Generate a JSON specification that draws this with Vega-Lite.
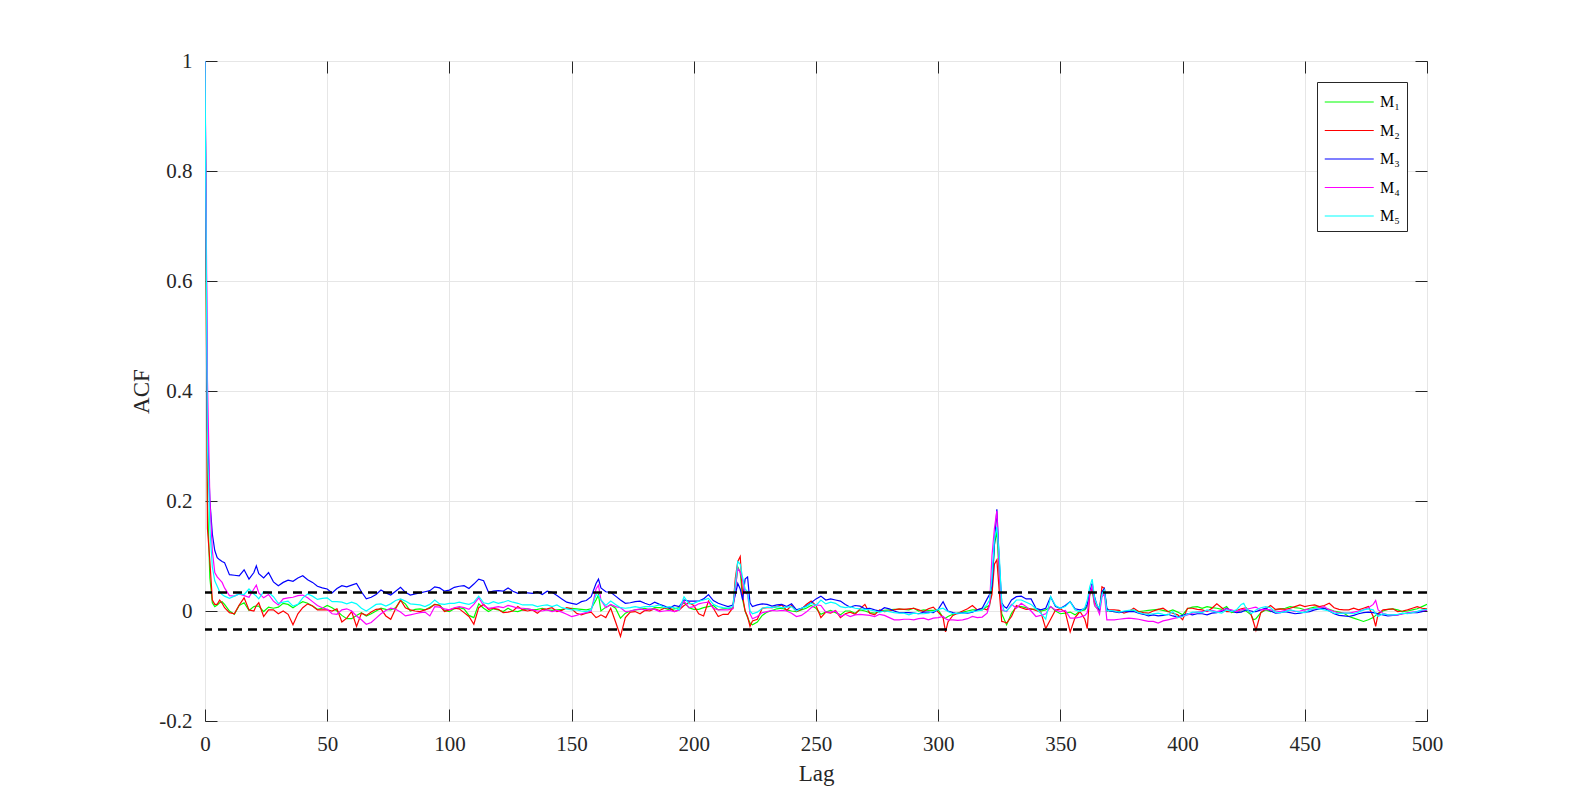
{
"$schema":"https://vega.github.io/schema/vega-lite/v6.json",
"width":1222,"height":660,
"autosize":{"type":"none"},
"padding":{"left":205,"top":61,"right":151,"bottom":90},
"background":"white",
"config":{
 "font":"Liberation Serif",
 "view":{"stroke":"#262626","strokeWidth":1},
 "axis":{"labelFont":"Liberation Serif","labelFontSize":21,"labelColor":"#262626","titleFont":"Liberation Serif","titleFontSize":23,"titleFontWeight":"normal","titleColor":"#262626","domainColor":"#262626","tickColor":"#262626","gridColor":"#e6e6e6","gridOpacity":1,"gridWidth":1}
},
"datasets":{
"bounds":[{"b":0.0335},{"b":-0.0335}],
"acf":[
{"lag":0,"M1":1,"M2":1,"M3":1,"M4":1,"M5":1},
{"lag":1,"M1":0.2,"M2":0.15,"M3":0.33,"M4":0.42,"M5":0.3},
{"lag":2,"M1":0.06,"M2":0.09,"M3":0.2,"M4":0.2,"M5":0.15},
{"lag":3,"M1":0.015,"M2":0.02,"M3":0.14,"M4":0.11,"M5":0.08},
{"lag":4,"M1":0.008,"M2":0.012,"M3":0.11,"M4":0.07,"M5":0.055},
{"lag":5,"M1":0.011,"M2":0.012,"M3":0.097,"M4":0.062,"M5":0.045},
{"lag":6,"M1":0.015,"M2":0.02,"M3":0.093,"M4":0.057,"M5":0.035},
{"lag":7,"M1":0.017,"M2":0.014,"M3":0.09,"M4":0.052,"M5":0.03},
{"lag":8,"M1":0.012,"M2":0.006,"M3":0.088,"M4":0.042,"M5":0.027},
{"lag":10,"M1":0.0,"M2":-0.003,"M3":0.066,"M4":0.028,"M5":0.023},
{"lag":12,"M1":-0.006,"M2":-0.005,"M3":0.065,"M4":0.027,"M5":0.027},
{"lag":14,"M1":0.01,"M2":0.011,"M3":0.064,"M4":0.031,"M5":0.031},
{"lag":16,"M1":0.015,"M2":0.024,"M3":0.075,"M4":0.028,"M5":0.03},
{"lag":18,"M1":0.001,"M2":0.002,"M3":0.058,"M4":0.025,"M5":0.04},
{"lag":20,"M1":0.008,"M2":0.0,"M3":0.07,"M4":0.04,"M5":0.031},
{"lag":21,"M1":0.009,"M2":0.01,"M3":0.082,"M4":0.047,"M5":0.027},
{"lag":22,"M1":0.009,"M2":0.015,"M3":0.068,"M4":0.033,"M5":0.022},
{"lag":24,"M1":-0.001,"M2":-0.01,"M3":0.06,"M4":0.024,"M5":0.035},
{"lag":26,"M1":0.007,"M2":0.002,"M3":0.07,"M4":0.03,"M5":0.034},
{"lag":28,"M1":0.005,"M2":0.002,"M3":0.053,"M4":0.018,"M5":0.026},
{"lag":30,"M1":0.007,"M2":-0.005,"M3":0.046,"M4":0.011,"M5":0.014},
{"lag":32,"M1":0.014,"M2":0.0,"M3":0.052,"M4":0.022,"M5":0.016},
{"lag":34,"M1":0.012,"M2":-0.006,"M3":0.056,"M4":0.024,"M5":0.018},
{"lag":36,"M1":0.006,"M2":-0.025,"M3":0.054,"M4":0.025,"M5":0.009},
{"lag":38,"M1":0.012,"M2":-0.005,"M3":0.06,"M4":0.028,"M5":0.012},
{"lag":40,"M1":0.017,"M2":0.006,"M3":0.064,"M4":0.029,"M5":0.024},
{"lag":42,"M1":0.014,"M2":0.013,"M3":0.057,"M4":0.024,"M5":0.031},
{"lag":44,"M1":0.009,"M2":0.009,"M3":0.052,"M4":0.017,"M5":0.027},
{"lag":46,"M1":0.003,"M2":0.002,"M3":0.045,"M4":0.01,"M5":0.021},
{"lag":48,"M1":0.005,"M2":0.002,"M3":0.042,"M4":0.006,"M5":0.023},
{"lag":50,"M1":0.01,"M2":0.002,"M3":0.04,"M4":0.003,"M5":0.024},
{"lag":52,"M1":0.006,"M2":0.0,"M3":0.033,"M4":-0.005,"M5":0.017},
{"lag":54,"M1":0.0,"M2":0.004,"M3":0.041,"M4":-0.006,"M5":0.017},
{"lag":56,"M1":-0.008,"M2":-0.02,"M3":0.046,"M4":0.002,"M5":0.016},
{"lag":58,"M1":-0.014,"M2":-0.013,"M3":0.044,"M4":0.004,"M5":0.013},
{"lag":60,"M1":-0.014,"M2":-0.001,"M3":0.047,"M4":0.0,"M5":0.016},
{"lag":62,"M1":-0.008,"M2":-0.028,"M3":0.05,"M4":-0.009,"M5":0.013},
{"lag":64,"M1":-0.003,"M2":-0.004,"M3":0.035,"M4":-0.016,"M5":0.005},
{"lag":66,"M1":-0.009,"M2":-0.008,"M3":0.022,"M4":-0.024,"M5":0.0},
{"lag":68,"M1":-0.005,"M2":-0.002,"M3":0.025,"M4":-0.021,"M5":0.006},
{"lag":70,"M1":0.0,"M2":0.003,"M3":0.03,"M4":-0.013,"M5":0.012},
{"lag":72,"M1":0.005,"M2":0.004,"M3":0.038,"M4":-0.005,"M5":0.013},
{"lag":74,"M1":0.003,"M2":-0.009,"M3":0.033,"M4":0.001,"M5":0.009},
{"lag":76,"M1":0.002,"M2":-0.015,"M3":0.029,"M4":0.005,"M5":0.013},
{"lag":78,"M1":0.006,"M2":0.004,"M3":0.036,"M4":0.003,"M5":0.019},
{"lag":80,"M1":0.019,"M2":0.02,"M3":0.043,"M4":-0.002,"M5":0.022},
{"lag":82,"M1":0.013,"M2":0.006,"M3":0.034,"M4":-0.009,"M5":0.018},
{"lag":84,"M1":0.0,"M2":0.002,"M3":0.029,"M4":-0.007,"M5":0.013},
{"lag":86,"M1":0.003,"M2":0.0,"M3":0.031,"M4":-0.005,"M5":0.012},
{"lag":88,"M1":0.004,"M2":-0.001,"M3":0.033,"M4":-0.003,"M5":0.011},
{"lag":90,"M1":0.002,"M2":0.002,"M3":0.035,"M4":-0.002,"M5":0.008},
{"lag":92,"M1":0.007,"M2":0.005,"M3":0.037,"M4":-0.009,"M5":0.012},
{"lag":94,"M1":0.012,"M2":0.012,"M3":0.044,"M4":0.008,"M5":0.02},
{"lag":96,"M1":0.011,"M2":0.01,"M3":0.042,"M4":0.007,"M5":0.013},
{"lag":98,"M1":0.001,"M2":-0.001,"M3":0.036,"M4":0.004,"M5":0.012},
{"lag":100,"M1":-0.001,"M2":0.002,"M3":0.038,"M4":0.002,"M5":0.014},
{"lag":102,"M1":0.004,"M2":0.005,"M3":0.043,"M4":0.006,"M5":0.014},
{"lag":104,"M1":0.006,"M2":0.004,"M3":0.045,"M4":0.008,"M5":0.016},
{"lag":106,"M1":0.004,"M2":-0.003,"M3":0.046,"M4":0.006,"M5":0.014},
{"lag":108,"M1":-0.008,"M2":-0.01,"M3":0.041,"M4":0.003,"M5":0.012},
{"lag":110,"M1":-0.012,"M2":-0.024,"M3":0.049,"M4":0.012,"M5":0.016},
{"lag":112,"M1":0.013,"M2":0.006,"M3":0.058,"M4":0.024,"M5":0.027},
{"lag":114,"M1":0.005,"M2":0.012,"M3":0.055,"M4":0.01,"M5":0.015},
{"lag":116,"M1":-0.001,"M2":0.003,"M3":0.034,"M4":0.005,"M5":0.013},
{"lag":118,"M1":0.004,"M2":0.005,"M3":0.036,"M4":0.006,"M5":0.017},
{"lag":120,"M1":0.002,"M2":0.003,"M3":0.037,"M4":0.008,"M5":0.014},
{"lag":122,"M1":-0.001,"M2":-0.003,"M3":0.036,"M4":0.006,"M5":0.016},
{"lag":124,"M1":0.005,"M2":-0.002,"M3":0.042,"M4":0.01,"M5":0.019},
{"lag":126,"M1":0.0,"M2":0.0,"M3":0.036,"M4":0.008,"M5":0.016},
{"lag":128,"M1":-0.001,"M2":0.008,"M3":0.032,"M4":0.005,"M5":0.014},
{"lag":130,"M1":0.002,"M2":0.002,"M3":0.034,"M4":0.005,"M5":0.011},
{"lag":132,"M1":0.004,"M2":0.0,"M3":0.033,"M4":0.004,"M5":0.011},
{"lag":134,"M1":0.002,"M2":0.002,"M3":0.032,"M4":0.002,"M5":0.011},
{"lag":136,"M1":0.003,"M2":-0.004,"M3":0.035,"M4":0.0,"M5":0.008},
{"lag":138,"M1":0.005,"M2":0.003,"M3":0.03,"M4":0.0,"M5":0.01},
{"lag":140,"M1":0.002,"M2":0.004,"M3":0.036,"M4":0.002,"M5":0.011},
{"lag":142,"M1":0.001,"M2":0.006,"M3":0.034,"M4":-0.001,"M5":0.008},
{"lag":144,"M1":0.002,"M2":-0.001,"M3":0.028,"M4":0.001,"M5":0.011},
{"lag":146,"M1":0.003,"M2":0.001,"M3":0.022,"M4":-0.002,"M5":0.006},
{"lag":148,"M1":0.005,"M2":0.006,"M3":0.016,"M4":-0.006,"M5":0.004},
{"lag":150,"M1":0.005,"M2":0.004,"M3":0.014,"M4":-0.01,"M5":0.002},
{"lag":152,"M1":0.004,"M2":-0.004,"M3":0.012,"M4":-0.008,"M5":0.002},
{"lag":154,"M1":0.003,"M2":-0.007,"M3":0.017,"M4":-0.005,"M5":0.0},
{"lag":156,"M1":0.002,"M2":-0.004,"M3":0.019,"M4":-0.003,"M5":-0.001},
{"lag":158,"M1":0.004,"M2":-0.002,"M3":0.026,"M4":0.0,"M5":0.002},
{"lag":160,"M1":0.02,"M2":-0.012,"M3":0.05,"M4":0.04,"M5":0.03},
{"lag":161,"M1":0.029,"M2":-0.01,"M3":0.058,"M4":0.047,"M5":0.028},
{"lag":162,"M1":0.0,"M2":-0.007,"M3":0.042,"M4":0.02,"M5":0.02},
{"lag":164,"M1":0.007,"M2":-0.012,"M3":0.035,"M4":0.006,"M5":0.01},
{"lag":166,"M1":0.011,"M2":0.005,"M3":0.034,"M4":0.012,"M5":0.018},
{"lag":168,"M1":0.005,"M2":-0.02,"M3":0.027,"M4":0.008,"M5":0.012},
{"lag":170,"M1":-0.013,"M2":-0.046,"M3":0.02,"M4":0.006,"M5":0.006},
{"lag":172,"M1":-0.004,"M2":-0.012,"M3":0.014,"M4":-0.001,"M5":0.005},
{"lag":174,"M1":0.0,"M2":-0.002,"M3":0.015,"M4":0.0,"M5":0.006},
{"lag":176,"M1":0.002,"M2":-0.001,"M3":0.017,"M4":0.002,"M5":0.008},
{"lag":178,"M1":0.003,"M2":-0.005,"M3":0.018,"M4":0.004,"M5":0.006},
{"lag":180,"M1":0.005,"M2":0.001,"M3":0.014,"M4":0.002,"M5":0.008},
{"lag":182,"M1":0.002,"M2":0.0,"M3":0.011,"M4":0.004,"M5":0.008},
{"lag":184,"M1":0.006,"M2":0.004,"M3":0.016,"M4":0.003,"M5":0.009},
{"lag":186,"M1":0.006,"M2":0.001,"M3":0.012,"M4":-0.001,"M5":0.011},
{"lag":188,"M1":0.005,"M2":0.005,"M3":0.009,"M4":0.0,"M5":0.006},
{"lag":190,"M1":0.002,"M2":0.006,"M3":0.005,"M4":0.001,"M5":0.008},
{"lag":192,"M1":0.004,"M2":-0.001,"M3":0.01,"M4":-0.001,"M5":0.006},
{"lag":194,"M1":0.006,"M2":0.002,"M3":0.008,"M4":0.002,"M5":0.002},
{"lag":196,"M1":0.016,"M2":0.01,"M3":0.02,"M4":0.018,"M5":0.026},
{"lag":198,"M1":0.006,"M2":0.015,"M3":0.018,"M4":0.006,"M5":0.013},
{"lag":200,"M1":0.003,"M2":0.01,"M3":0.018,"M4":0.008,"M5":0.014},
{"lag":202,"M1":0.003,"M2":-0.005,"M3":0.018,"M4":0.013,"M5":0.018},
{"lag":204,"M1":0.006,"M2":-0.009,"M3":0.022,"M4":0.015,"M5":0.02},
{"lag":206,"M1":0.008,"M2":0.018,"M3":0.03,"M4":0.016,"M5":0.023},
{"lag":208,"M1":0.01,"M2":0.005,"M3":0.019,"M4":0.005,"M5":0.012},
{"lag":210,"M1":0.002,"M2":-0.01,"M3":0.014,"M4":0.002,"M5":0.008},
{"lag":212,"M1":0.004,"M2":-0.006,"M3":0.011,"M4":0.002,"M5":0.006},
{"lag":214,"M1":0.005,"M2":-0.006,"M3":0.008,"M4":0.002,"M5":0.005},
{"lag":216,"M1":0.005,"M2":0.006,"M3":0.011,"M4":0.004,"M5":0.008},
{"lag":217,"M1":0.04,"M2":0.06,"M3":0.03,"M4":0.04,"M5":0.05},
{"lag":218,"M1":0.08,"M2":0.09,"M3":0.05,"M4":0.078,"M5":0.09},
{"lag":219,"M1":0.07,"M2":0.099,"M3":0.04,"M4":0.07,"M5":0.085},
{"lag":220,"M1":0.02,"M2":0.026,"M3":0.02,"M4":0.056,"M5":0.06},
{"lag":221,"M1":0.0,"M2":0.0,"M3":0.058,"M4":0.035,"M5":0.04},
{"lag":222,"M1":-0.012,"M2":-0.01,"M3":0.062,"M4":0.03,"M5":0.035},
{"lag":223,"M1":-0.022,"M2":-0.028,"M3":0.015,"M4":-0.005,"M5":0.0},
{"lag":224,"M1":-0.025,"M2":-0.018,"M3":0.008,"M4":-0.014,"M5":-0.005},
{"lag":226,"M1":-0.02,"M2":-0.015,"M3":0.011,"M4":-0.01,"M5":-0.002},
{"lag":228,"M1":-0.008,"M2":0.005,"M3":0.013,"M4":-0.003,"M5":0.005},
{"lag":230,"M1":-0.002,"M2":0.006,"M3":0.012,"M4":-0.001,"M5":0.007},
{"lag":232,"M1":0.001,"M2":0.006,"M3":0.009,"M4":0.001,"M5":0.006},
{"lag":234,"M1":0.004,"M2":0.008,"M3":0.011,"M4":0.0,"M5":0.008},
{"lag":236,"M1":0.005,"M2":0.011,"M3":0.012,"M4":0.001,"M5":0.006},
{"lag":238,"M1":0.002,"M2":0.001,"M3":0.008,"M4":0.0,"M5":0.007},
{"lag":240,"M1":0.0,"M2":0.01,"M3":0.013,"M4":-0.004,"M5":0.008},
{"lag":242,"M1":-0.001,"M2":-0.001,"M3":0.002,"M4":-0.01,"M5":0.0},
{"lag":244,"M1":0.002,"M2":0.003,"M3":0.005,"M4":-0.008,"M5":0.005},
{"lag":246,"M1":0.005,"M2":0.012,"M3":0.009,"M4":-0.002,"M5":0.008},
{"lag":248,"M1":0.01,"M2":0.018,"M3":0.015,"M4":0.006,"M5":0.014},
{"lag":250,"M1":0.005,"M2":0.01,"M3":0.022,"M4":0.011,"M5":0.01},
{"lag":252,"M1":-0.006,"M2":-0.012,"M3":0.027,"M4":0.01,"M5":0.02},
{"lag":254,"M1":-0.002,"M2":-0.002,"M3":0.02,"M4":-0.002,"M5":0.013},
{"lag":256,"M1":0.001,"M2":-0.004,"M3":0.022,"M4":-0.002,"M5":0.016},
{"lag":258,"M1":-0.003,"M2":0.001,"M3":0.02,"M4":0.0,"M5":0.014},
{"lag":260,"M1":-0.007,"M2":-0.012,"M3":0.018,"M4":-0.01,"M5":0.008},
{"lag":262,"M1":0.0,"M2":-0.005,"M3":0.012,"M4":-0.006,"M5":0.006},
{"lag":264,"M1":0.0,"M2":-0.002,"M3":0.007,"M4":-0.01,"M5":0.008},
{"lag":266,"M1":-0.004,"M2":-0.006,"M3":0.01,"M4":-0.007,"M5":0.005},
{"lag":268,"M1":0.002,"M2":0.004,"M3":0.009,"M4":-0.006,"M5":0.004},
{"lag":270,"M1":0.0,"M2":0.012,"M3":0.004,"M4":-0.007,"M5":0.003},
{"lag":272,"M1":-0.003,"M2":-0.004,"M3":0.005,"M4":-0.008,"M5":0.002},
{"lag":274,"M1":-0.004,"M2":-0.007,"M3":0.002,"M4":-0.01,"M5":0.0},
{"lag":276,"M1":-0.001,"M2":0.002,"M3":0.0,"M4":-0.006,"M5":-0.002},
{"lag":278,"M1":0.001,"M2":-0.001,"M3":0.006,"M4":-0.008,"M5":0.0},
{"lag":280,"M1":0.002,"M2":0.0,"M3":0.004,"M4":-0.012,"M5":-0.001},
{"lag":282,"M1":0.003,"M2":0.002,"M3":0.0,"M4":-0.016,"M5":-0.003},
{"lag":284,"M1":0.003,"M2":0.004,"M3":-0.003,"M4":-0.016,"M5":-0.004},
{"lag":286,"M1":0.003,"M2":0.003,"M3":-0.003,"M4":-0.015,"M5":-0.004},
{"lag":288,"M1":0.002,"M2":0.004,"M3":-0.003,"M4":-0.015,"M5":-0.007},
{"lag":290,"M1":0.005,"M2":0.005,"M3":-0.004,"M4":-0.016,"M5":-0.004},
{"lag":292,"M1":0.0,"M2":0.002,"M3":-0.005,"M4":-0.014,"M5":-0.005},
{"lag":294,"M1":0.002,"M2":-0.001,"M3":-0.002,"M4":-0.013,"M5":-0.005},
{"lag":296,"M1":0.001,"M2":0.004,"M3":-0.002,"M4":-0.016,"M5":-0.004},
{"lag":298,"M1":0.001,"M2":0.007,"M3":-0.003,"M4":-0.013,"M5":-0.001},
{"lag":300,"M1":0.002,"M2":-0.002,"M3":0.003,"M4":-0.012,"M5":0.003},
{"lag":302,"M1":-0.012,"M2":-0.012,"M3":0.017,"M4":-0.01,"M5":0.005},
{"lag":303,"M1":-0.013,"M2":-0.038,"M3":0.008,"M4":-0.014,"M5":0.002},
{"lag":304,"M1":-0.01,"M2":-0.02,"M3":0.0,"M4":-0.016,"M5":-0.001},
{"lag":306,"M1":-0.006,"M2":-0.008,"M3":-0.003,"M4":-0.016,"M5":-0.005},
{"lag":308,"M1":-0.004,"M2":-0.004,"M3":-0.005,"M4":-0.017,"M5":-0.004},
{"lag":310,"M1":-0.002,"M2":0.0,"M3":-0.003,"M4":-0.016,"M5":-0.004},
{"lag":312,"M1":0.0,"M2":0.004,"M3":-0.004,"M4":-0.014,"M5":-0.003},
{"lag":314,"M1":0.002,"M2":0.01,"M3":-0.002,"M4":-0.01,"M5":-0.001},
{"lag":316,"M1":0.002,"M2":0.002,"M3":0.002,"M4":-0.012,"M5":0.0},
{"lag":318,"M1":0.002,"M2":0.005,"M3":0.005,"M4":-0.011,"M5":0.002},
{"lag":320,"M1":0.008,"M2":0.002,"M3":0.022,"M4":-0.004,"M5":0.012},
{"lag":321,"M1":0.01,"M2":0.012,"M3":0.03,"M4":0.01,"M5":0.02},
{"lag":322,"M1":0.04,"M2":0.03,"M3":0.045,"M4":0.1,"M5":0.06},
{"lag":323,"M1":0.12,"M2":0.085,"M3":0.12,"M4":0.15,"M5":0.13},
{"lag":324,"M1":0.145,"M2":0.093,"M3":0.185,"M4":0.182,"M5":0.153},
{"lag":325,"M1":0.06,"M2":0.035,"M3":0.09,"M4":0.068,"M5":0.1},
{"lag":326,"M1":-0.005,"M2":-0.019,"M3":0.015,"M4":0.002,"M5":0.014},
{"lag":327,"M1":-0.015,"M2":-0.02,"M3":0.008,"M4":0.0,"M5":0.0},
{"lag":328,"M1":-0.025,"M2":-0.022,"M3":0.005,"M4":-0.001,"M5":0.0},
{"lag":330,"M1":-0.004,"M2":-0.01,"M3":0.02,"M4":0.012,"M5":0.01},
{"lag":332,"M1":0.008,"M2":0.01,"M3":0.026,"M4":0.005,"M5":0.02},
{"lag":334,"M1":0.008,"M2":0.006,"M3":0.027,"M4":0.014,"M5":0.02},
{"lag":336,"M1":0.006,"M2":0.003,"M3":0.022,"M4":0.008,"M5":0.016},
{"lag":338,"M1":0.003,"M2":0.004,"M3":0.022,"M4":0.0,"M5":0.012},
{"lag":340,"M1":0.004,"M2":0.001,"M3":0.005,"M4":-0.01,"M5":0.004},
{"lag":342,"M1":0.0,"M2":-0.002,"M3":0.002,"M4":-0.008,"M5":-0.004},
{"lag":344,"M1":0.002,"M2":-0.032,"M3":0.005,"M4":-0.005,"M5":-0.015},
{"lag":346,"M1":0.008,"M2":-0.015,"M3":0.026,"M4":0.008,"M5":0.026},
{"lag":348,"M1":0.0,"M2":0.002,"M3":0.008,"M4":0.002,"M5":0.01},
{"lag":350,"M1":-0.005,"M2":0.004,"M3":0.005,"M4":-0.001,"M5":0.005},
{"lag":352,"M1":-0.004,"M2":-0.002,"M3":0.01,"M4":0.001,"M5":0.008},
{"lag":354,"M1":-0.002,"M2":-0.038,"M3":0.017,"M4":-0.013,"M5":0.017},
{"lag":356,"M1":-0.007,"M2":-0.012,"M3":0.004,"M4":-0.013,"M5":0.002},
{"lag":358,"M1":0.0,"M2":-0.001,"M3":0.002,"M4":-0.011,"M5":-0.001},
{"lag":360,"M1":0.002,"M2":-0.015,"M3":0.004,"M4":-0.008,"M5":0.006},
{"lag":361,"M1":0.008,"M2":-0.032,"M3":0.012,"M4":-0.003,"M5":0.02},
{"lag":362,"M1":0.03,"M2":0.03,"M3":0.035,"M4":0.03,"M5":0.044},
{"lag":363,"M1":0.038,"M2":0.044,"M3":0.05,"M4":0.047,"M5":0.058},
{"lag":364,"M1":0.01,"M2":0.015,"M3":0.025,"M4":0.01,"M5":0.023},
{"lag":365,"M1":0.005,"M2":0.01,"M3":0.01,"M4":0.005,"M5":0.01},
{"lag":366,"M1":0.0,"M2":0.002,"M3":0.002,"M4":-0.006,"M5":0.005},
{"lag":367,"M1":0.035,"M2":0.044,"M3":0.035,"M4":0.025,"M5":0.03},
{"lag":368,"M1":0.038,"M2":0.041,"M3":0.041,"M4":0.032,"M5":0.038},
{"lag":369,"M1":0.003,"M2":-0.001,"M3":0.005,"M4":-0.016,"M5":0.0},
{"lag":370,"M1":0.0,"M2":0.002,"M3":0.0,"M4":-0.016,"M5":0.001},
{"lag":372,"M1":-0.001,"M2":0.002,"M3":-0.001,"M4":-0.016,"M5":0.0},
{"lag":374,"M1":-0.001,"M2":0.001,"M3":-0.003,"M4":-0.015,"M5":-0.002},
{"lag":376,"M1":-0.001,"M2":-0.004,"M3":-0.001,"M4":-0.014,"M5":0.0},
{"lag":378,"M1":0.0,"M2":-0.001,"M3":-0.001,"M4":-0.013,"M5":0.001},
{"lag":380,"M1":0.001,"M2":0.005,"M3":-0.001,"M4":-0.014,"M5":0.002},
{"lag":382,"M1":-0.001,"M2":-0.001,"M3":-0.004,"M4":-0.015,"M5":-0.003},
{"lag":384,"M1":0.0,"M2":-0.003,"M3":-0.006,"M4":-0.017,"M5":-0.005},
{"lag":386,"M1":0.001,"M2":-0.004,"M3":-0.009,"M4":-0.019,"M5":-0.006},
{"lag":388,"M1":0.002,"M2":0.0,"M3":-0.007,"M4":-0.019,"M5":-0.005},
{"lag":390,"M1":0.003,"M2":0.003,"M3":-0.009,"M4":-0.022,"M5":-0.004},
{"lag":392,"M1":0.001,"M2":0.005,"M3":-0.008,"M4":-0.018,"M5":-0.006},
{"lag":394,"M1":-0.001,"M2":-0.001,"M3":-0.006,"M4":-0.016,"M5":-0.007},
{"lag":396,"M1":0.002,"M2":-0.004,"M3":-0.009,"M4":-0.014,"M5":-0.001},
{"lag":398,"M1":-0.002,"M2":-0.007,"M3":-0.011,"M4":-0.012,"M5":-0.012},
{"lag":400,"M1":-0.007,"M2":-0.016,"M3":-0.008,"M4":-0.01,"M5":-0.01},
{"lag":402,"M1":0.004,"M2":0.005,"M3":-0.005,"M4":-0.007,"M5":-0.006},
{"lag":404,"M1":0.007,"M2":0.005,"M3":-0.007,"M4":-0.004,"M5":-0.002},
{"lag":406,"M1":0.008,"M2":0.003,"M3":-0.005,"M4":-0.002,"M5":-0.002},
{"lag":408,"M1":0.005,"M2":0.002,"M3":-0.005,"M4":-0.001,"M5":-0.003},
{"lag":410,"M1":0.008,"M2":-0.001,"M3":-0.007,"M4":0.0,"M5":0.002},
{"lag":412,"M1":0.006,"M2":0.005,"M3":-0.004,"M4":0.001,"M5":0.0},
{"lag":414,"M1":0.005,"M2":0.013,"M3":-0.003,"M4":-0.001,"M5":-0.002},
{"lag":416,"M1":0.003,"M2":0.006,"M3":-0.001,"M4":0.001,"M5":-0.004},
{"lag":418,"M1":0.008,"M2":-0.001,"M3":0.005,"M4":0.004,"M5":0.002},
{"lag":420,"M1":-0.003,"M2":-0.001,"M3":0.0,"M4":0.002,"M5":-0.001},
{"lag":422,"M1":-0.001,"M2":0.001,"M3":-0.003,"M4":-0.001,"M5":0.002},
{"lag":424,"M1":0.0,"M2":0.004,"M3":-0.002,"M4":0.002,"M5":0.012},
{"lag":425,"M1":0.0,"M2":0.005,"M3":0.0,"M4":0.003,"M5":0.014},
{"lag":426,"M1":0.0,"M2":0.006,"M3":0.002,"M4":0.003,"M5":0.005},
{"lag":428,"M1":-0.007,"M2":-0.006,"M3":0.0,"M4":0.005,"M5":-0.005},
{"lag":429,"M1":-0.016,"M2":-0.02,"M3":-0.001,"M4":0.006,"M5":-0.002},
{"lag":430,"M1":-0.014,"M2":-0.035,"M3":-0.001,"M4":0.007,"M5":0.002},
{"lag":432,"M1":-0.003,"M2":-0.003,"M3":0.002,"M4":0.002,"M5":0.006},
{"lag":434,"M1":0.002,"M2":0.004,"M3":0.005,"M4":0.003,"M5":0.008},
{"lag":436,"M1":-0.001,"M2":0.01,"M3":0.0,"M4":0.002,"M5":0.006},
{"lag":438,"M1":0.002,"M2":0.003,"M3":-0.004,"M4":0.0,"M5":-0.002},
{"lag":440,"M1":0.004,"M2":0.004,"M3":-0.003,"M4":-0.001,"M5":-0.003},
{"lag":442,"M1":0.005,"M2":0.003,"M3":-0.001,"M4":0.001,"M5":-0.001},
{"lag":444,"M1":0.008,"M2":0.005,"M3":-0.003,"M4":0.002,"M5":0.002},
{"lag":446,"M1":0.006,"M2":0.008,"M3":-0.005,"M4":-0.001,"M5":0.0},
{"lag":448,"M1":0.005,"M2":0.011,"M3":-0.004,"M4":0.0,"M5":-0.002},
{"lag":450,"M1":0.002,"M2":0.008,"M3":-0.002,"M4":0.002,"M5":-0.003},
{"lag":452,"M1":0.005,"M2":0.01,"M3":-0.001,"M4":0.003,"M5":0.002},
{"lag":454,"M1":0.007,"M2":0.011,"M3":0.002,"M4":0.004,"M5":0.005},
{"lag":456,"M1":0.008,"M2":0.008,"M3":0.004,"M4":0.006,"M5":0.004},
{"lag":458,"M1":0.005,"M2":0.01,"M3":0.005,"M4":0.008,"M5":0.002},
{"lag":460,"M1":0.003,"M2":0.014,"M3":0.0,"M4":0.002,"M5":0.0},
{"lag":462,"M1":0.0,"M2":0.006,"M3":-0.005,"M4":-0.001,"M5":-0.004},
{"lag":464,"M1":-0.002,"M2":0.003,"M3":-0.008,"M4":-0.004,"M5":-0.005},
{"lag":466,"M1":-0.004,"M2":0.002,"M3":-0.009,"M4":-0.004,"M5":-0.004},
{"lag":468,"M1":-0.01,"M2":0.002,"M3":-0.01,"M4":-0.004,"M5":-0.004},
{"lag":470,"M1":-0.013,"M2":0.005,"M3":-0.008,"M4":-0.002,"M5":-0.005},
{"lag":472,"M1":-0.016,"M2":0.002,"M3":-0.005,"M4":0.0,"M5":-0.002},
{"lag":474,"M1":-0.019,"M2":0.005,"M3":-0.003,"M4":0.002,"M5":0.002},
{"lag":476,"M1":-0.016,"M2":0.008,"M3":-0.002,"M4":0.006,"M5":0.004},
{"lag":478,"M1":-0.012,"M2":-0.01,"M3":-0.003,"M4":0.012,"M5":0.002},
{"lag":479,"M1":-0.008,"M2":-0.028,"M3":-0.004,"M4":0.019,"M5":-0.005},
{"lag":480,"M1":-0.004,"M2":-0.005,"M3":-0.005,"M4":0.002,"M5":-0.01},
{"lag":482,"M1":0.0,"M2":0.002,"M3":-0.007,"M4":-0.004,"M5":-0.005},
{"lag":484,"M1":0.003,"M2":0.003,"M3":-0.009,"M4":-0.007,"M5":-0.007},
{"lag":486,"M1":0.004,"M2":0.004,"M3":-0.008,"M4":-0.007,"M5":-0.007},
{"lag":488,"M1":0.002,"M2":-0.001,"M3":-0.007,"M4":-0.007,"M5":-0.006},
{"lag":490,"M1":-0.001,"M2":0.0,"M3":-0.005,"M4":-0.005,"M5":-0.004},
{"lag":492,"M1":0.0,"M2":0.002,"M3":-0.004,"M4":-0.004,"M5":-0.005},
{"lag":494,"M1":0.002,"M2":0.005,"M3":-0.003,"M4":-0.002,"M5":-0.003},
{"lag":496,"M1":0.004,"M2":0.008,"M3":-0.003,"M4":-0.001,"M5":-0.001},
{"lag":498,"M1":0.008,"M2":0.005,"M3":-0.001,"M4":0.001,"M5":0.002},
{"lag":500,"M1":0.012,"M2":0.004,"M3":0.002,"M4":0.002,"M5":0.003}
]},
"layer":[
 {"data":{"name":"acf"},
  "transform":[{"fold":["M1","M2","M3","M4","M5"],"as":["series","acf"]}],
  "mark":{"type":"line","strokeWidth":1.2,"clip":true},
  "encoding":{
   "x":{"field":"lag","type":"quantitative","scale":{"domain":[0,500],"nice":false,"zero":false},
        "axis":{"orient":"bottom","title":"Lag","values":[0,50,100,150,200,250,300,350,400,450,500],"grid":true,"tickSize":-12,"labelPadding":24,"titlePadding":8,"domain":false,"labelFlush":false}},
   "y":{"field":"acf","type":"quantitative","scale":{"domain":[-0.2,1],"nice":false,"zero":false},
        "axis":{"orient":"left","title":"ACF","values":[-0.2,0,0.2,0.4,0.6,0.8,1],"labelExpr":"'' + datum.value","grid":true,"tickSize":-12,"labelPadding":25,"titlePadding":5,"domain":false,"labelFlush":false}},
   "color":{"field":"series","type":"nominal","sort":["M1","M2","M3","M4","M5"],
     "scale":{"domain":["M1","M2","M3","M4","M5"],"range":["#00ff00","#ff0000","#0000ff","#ff00ff","#00ffff"]},
     "legend":{"orient":"none","legendX":1112,"legendY":21,"title":null,"symbolType":"M-1,0H3","symbolSize":600,"symbolStrokeWidth":1.2,"labelFont":"Liberation Serif","labelFontSize":16,"labelColor":"#000000","labelOffset":30,"padding":7,"rowPadding":7.5,"strokeColor":"#262626","fillColor":"white",
       "labelExpr":"{'M1':'M₁','M2':'M₂','M3':'M₃','M4':'M₄','M5':'M₅'}[datum.value]"}}
  }},
 {"data":{"name":"bounds"},
  "mark":{"type":"rule","color":"#000000","strokeWidth":2.5,"strokeDash":[9,6]},
  "encoding":{"y":{"field":"b","type":"quantitative","scale":{"domain":[-0.2,1],"nice":false,"zero":false},"axis":null}}},
 {"data":{"name":"acf"},
  "mark":{"type":"point","opacity":0},
  "encoding":{
   "x":{"field":"lag","type":"quantitative","scale":{"domain":[0,500],"nice":false,"zero":false},"axis":{"orient":"top","title":null,"labels":false,"values":[0,50,100,150,200,250,300,350,400,450,500],"grid":false,"tickSize":-12,"domain":false}},
   "y":{"field":"M1","type":"quantitative","scale":{"domain":[-0.2,1],"nice":false,"zero":false},"axis":{"orient":"right","title":null,"labels":false,"values":[-0.2,0,0.2,0.4,0.6,0.8,1],"grid":false,"tickSize":-12,"domain":false}}
  }}
],
"resolve":{"axis":{"x":"independent","y":"independent"}}
}
